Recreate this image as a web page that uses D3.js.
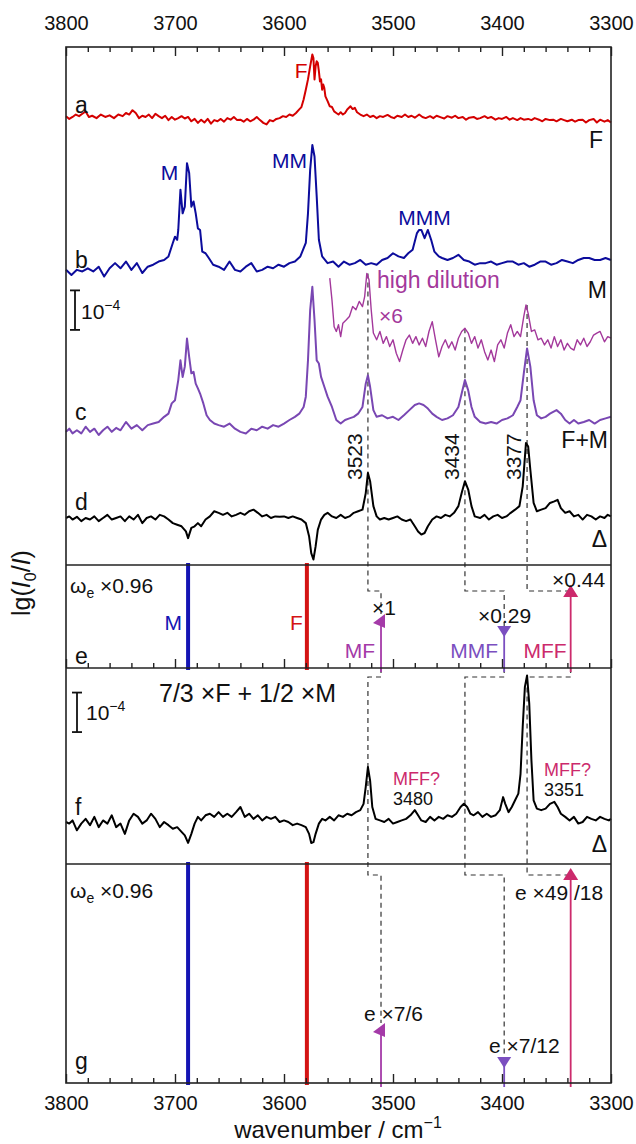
<!DOCTYPE html>
<html><head><meta charset="utf-8">
<script src="https://cdn.jsdelivr.net/npm/d3@7"></script>
<style>body{margin:0;background:#fff}svg{display:block}text{font-family:"Liberation Sans",Arial,Helvetica,sans-serif}</style>
</head><body><svg id="c" width="636" height="1144"></svg>
<script>
// ---------- DATA (absorbance in units of 1e-4, relative to each trace's own baseline) ----------
const xTicksMajor = [3800, 3700, 3600, 3500, 3400, 3300];
const specA = [[3800,0.02],[3797,-0.05],[3794,0],[3791,0.06],[3788,0.02],[3785,0.08],[3782,0.14],[3779,0],[3776,0.03],[3772,-0.03],[3768,0.06],[3764,0],[3760,0.04],[3756,-0.03],[3752,0.06],[3748,0.02],[3745,0.1],[3742,0.06],[3739,0.17],[3736,0.1],[3733,-0.03],[3730,0.03],[3727,0],[3724,0.06],[3721,-0.03],[3718,0.08],[3715,0.02],[3712,-0.03],[3709,0.03],[3706,-0.08],[3703,0],[3700,-0.07],[3697,-0.03],[3694,0.02],[3691,-0.04],[3688,0],[3685,-0.11],[3682,-0.05],[3679,-0.15],[3676,-0.07],[3673,-0.14],[3670,-0.05],[3667,-0.17],[3664,-0.08],[3661,-0.11],[3658,-0.05],[3655,-0.12],[3652,-0.03],[3649,-0.07],[3646,0],[3643,-0.08],[3640,-0.07],[3637,-0.12],[3634,-0.05],[3631,-0.11],[3628,-0.07],[3625,0],[3622,-0.08],[3619,-0.15],[3616,-0.19],[3613,-0.08],[3610,-0.11],[3607,-0.05],[3604,-0.03],[3601,0.02],[3598,0],[3595,0.06],[3592,0.03],[3589,0.1],[3586,0.19],[3584,0.25],[3582,0.44],[3580,0.69],[3578,0.95],[3576,1.28],[3574,1.58],[3573,1.49],[3572,0.95],[3571,1.28],[3570,1.41],[3569,1.37],[3568,1.16],[3567,0.9],[3566,0.95],[3565,0.69],[3564,0.82],[3563,0.73],[3562,0.52],[3560,0.4],[3558,0.27],[3556,0.25],[3554,0.14],[3552,0.1],[3550,0.06],[3548,0.12],[3546,0.06],[3544,0.1],[3542,0.19],[3539,0.27],[3537,0.2],[3535,0.23],[3533,0.12],[3530,0.06],[3527,0.02],[3524,0.06],[3521,0],[3518,0.03],[3515,-0.03],[3512,0.02],[3509,0],[3505,0.05],[3502,0],[3499,-0.03],[3496,0.03],[3492,0],[3489,0.06],[3486,0],[3483,0.03],[3480,-0.02],[3476,0.06],[3473,0],[3470,-0.03],[3466,0.02],[3463,-0.03],[3460,0.03],[3456,-0.01],[3453,-0.04],[3450,0.02],[3446,-0.02],[3443,0.03],[3440,-0.03],[3436,0],[3433,-0.07],[3430,-0.02],[3426,0],[3423,-0.05],[3420,-0.03],[3416,0.02],[3413,-0.03],[3410,0],[3406,-0.07],[3403,-0.03],[3400,-0.05],[3396,0],[3393,-0.07],[3390,-0.03],[3386,-0.08],[3383,-0.03],[3380,-0.07],[3376,-0.05],[3373,-0.08],[3370,-0.03],[3366,-0.07],[3363,-0.11],[3360,-0.05],[3356,-0.08],[3353,-0.07],[3350,-0.11],[3346,-0.05],[3343,-0.08],[3340,-0.11],[3336,-0.07],[3333,-0.12],[3330,-0.08],[3326,-0.07],[3323,-0.14],[3320,-0.08],[3316,-0.05],[3313,-0.14],[3310,-0.07],[3306,-0.12],[3303,-0.08],[3300,-0.14]];
const specB = [[3800,0],[3795,-0.13],[3790,0],[3785,-0.04],[3780,0.04],[3775,-0.04],[3770,0.08],[3765,-0.17],[3760,0.04],[3755,0.17],[3750,0.04],[3745,0.21],[3740,0],[3735,0.17],[3730,-0.08],[3725,0.08],[3720,0.13],[3715,0.21],[3710,0.25],[3706,0.34],[3702,0.68],[3700,0.84],[3698,0.76],[3697,1.01],[3695,2.03],[3693,1.43],[3691,1.6],[3689,2.7],[3687,2.45],[3685,1.6],[3683,1.73],[3681,1.43],[3679,1.05],[3677,1.01],[3675,0.46],[3672,0.42],[3669,0.3],[3665,0.13],[3660,0.08],[3655,0],[3650,0.21],[3645,0],[3640,-0.04],[3635,0.08],[3630,0.17],[3625,-0.04],[3620,0],[3615,0.08],[3610,0.04],[3605,0.13],[3600,0.08],[3595,0.17],[3590,0.21],[3585,0.34],[3580,0.68],[3578,1.43],[3576,2.53],[3574,3.16],[3572,2.87],[3570,1.86],[3568,0.76],[3565,0.34],[3560,0.17],[3555,0.21],[3550,0.08],[3545,0.21],[3540,0.13],[3535,0.17],[3530,0.25],[3525,0.13],[3520,0.17],[3515,0.13],[3510,0.25],[3505,0.3],[3500,0.42],[3495,0.34],[3490,0.3],[3486,0.42],[3482,0.51],[3478,0.93],[3476,1.01],[3474,1.01],[3471,0.8],[3468,1.01],[3465,0.76],[3462,0.46],[3458,0.34],[3455,0.3],[3450,0.25],[3445,0.3],[3440,0.38],[3435,0.25],[3430,0.21],[3425,0.13],[3420,0.17],[3415,0.17],[3410,0.21],[3405,0.13],[3400,0.17],[3395,0.21],[3390,0.21],[3385,0.13],[3380,0.17],[3375,0.08],[3370,0.13],[3365,0.21],[3360,0.21],[3355,0.13],[3350,0.17],[3345,0.25],[3340,0.21],[3335,0.17],[3330,0.25],[3325,0.3],[3320,0.3],[3315,0.25],[3310,0.25],[3305,0.3],[3300,0.25]];
const specHD = [[3558,1.69],[3556,1.14],[3554,0.46],[3552,0.34],[3550,0.51],[3548,0.21],[3546,0.55],[3543,0.63],[3540,0.72],[3537,0.97],[3534,0.89],[3531,1.1],[3528,0.97],[3526,1.22],[3524,1.81],[3522,1.65],[3520,0.89],[3518,0.3],[3515,0.13],[3512,0.34],[3509,0.04],[3506,0.21],[3503,-0.04],[3500,0.13],[3497,-0.21],[3494,-0.42],[3491,-0.13],[3488,0.13],[3485,0.25],[3482,0.04],[3479,0.21],[3476,0],[3473,0.17],[3470,-0.04],[3467,0.34],[3464,0.59],[3461,0.13],[3458,-0.3],[3455,-0.04],[3452,0.13],[3449,-0.08],[3446,0.08],[3443,-0.13],[3440,0.17],[3437,0.34],[3434,0.42],[3431,0.3],[3428,0.04],[3425,0.21],[3422,-0.08],[3419,0.13],[3416,-0.17],[3413,-0.38],[3410,-0.13],[3407,-0.42],[3404,0],[3401,0.13],[3398,-0.08],[3395,0.3],[3392,0.51],[3389,0.21],[3386,0.34],[3383,0.21],[3380,0.72],[3378,1.01],[3376,0.8],[3373,0.34],[3370,0.38],[3367,0.13],[3364,0.17],[3361,0],[3358,0.13],[3355,-0.08],[3352,0.21],[3349,-0.04],[3346,0.13],[3343,-0.13],[3340,0.04],[3337,-0.08],[3334,-0.13],[3331,0.13],[3328,0],[3325,0.17],[3322,-0.04],[3319,0.08],[3316,0.25],[3313,0.3],[3310,0.34],[3306,0.08],[3303,0.21],[3300,0.17]];
const specC = [[3800,0],[3797,0.08],[3794,-0.04],[3790,0.04],[3786,-0.04],[3782,0.13],[3778,0],[3774,0.08],[3770,-0.08],[3766,0.04],[3762,0.13],[3758,0],[3754,0.1],[3750,0.04],[3745,0.25],[3740,0.08],[3735,0.17],[3730,0.04],[3725,0.17],[3720,0.21],[3715,0.25],[3710,0.38],[3706,0.46],[3703,0.72],[3700,0.8],[3697,1.31],[3695,1.81],[3693,1.39],[3691,1.65],[3689,2.36],[3687,1.9],[3685,1.48],[3683,1.52],[3681,1.22],[3679,1.1],[3677,0.97],[3674,0.72],[3671,0.42],[3668,0.3],[3664,0.21],[3660,0.17],[3655,0.13],[3650,0.21],[3645,0.08],[3640,0],[3635,-0.04],[3630,0.08],[3625,0.04],[3620,0.13],[3615,0.08],[3610,0.17],[3605,0.13],[3600,0.21],[3595,0.3],[3590,0.38],[3586,0.46],[3582,0.63],[3580,0.89],[3578,1.81],[3576,3.08],[3574,3.67],[3572,2.83],[3570,1.81],[3568,1.73],[3566,1.39],[3563,1.14],[3560,0.89],[3556,0.63],[3552,0.3],[3548,0.21],[3544,0.3],[3540,0.34],[3536,0.38],[3532,0.46],[3528,0.63],[3525,1.22],[3523,1.43],[3521,1.14],[3518,0.55],[3515,0.38],[3510,0.42],[3505,0.34],[3500,0.38],[3495,0.3],[3490,0.42],[3485,0.55],[3480,0.68],[3476,0.72],[3472,0.68],[3468,0.59],[3464,0.46],[3460,0.38],[3455,0.3],[3450,0.34],[3445,0.42],[3440,0.63],[3437,0.97],[3434,1.31],[3431,1.05],[3428,0.63],[3425,0.38],[3420,0.25],[3415,0.21],[3410,0.25],[3405,0.21],[3400,0.3],[3395,0.34],[3390,0.42],[3386,0.63],[3383,0.8],[3380,1.48],[3377,2.11],[3374,1.65],[3371,0.8],[3368,0.42],[3364,0.34],[3360,0.38],[3356,0.46],[3350,0.55],[3346,0.46],[3342,0.3],[3338,0.21],[3334,0.3],[3330,0.21],[3325,0.25],[3320,0.3],[3315,0.21],[3310,0.3],[3305,0.34],[3300,0.38]];
const specD = [[3800,0],[3797,0.04],[3794,-0.04],[3790,0.03],[3786,-0.08],[3782,0],[3778,-0.04],[3774,0.04],[3770,-0.08],[3766,0],[3762,0.08],[3758,-0.04],[3754,0],[3750,0.04],[3746,-0.08],[3742,0.04],[3738,-0.04],[3734,0.08],[3730,-0.13],[3726,0],[3722,0.04],[3718,-0.04],[3714,0.08],[3710,0.04],[3706,-0.04],[3702,-0.13],[3698,-0.17],[3694,-0.21],[3690,-0.34],[3688,-0.51],[3685,-0.25],[3682,-0.21],[3679,-0.13],[3676,-0.21],[3672,-0.04],[3668,0.04],[3664,0.17],[3660,0.13],[3656,0.08],[3652,0.13],[3648,0.04],[3644,0.08],[3640,0.13],[3636,0.08],[3632,0.17],[3628,0.21],[3624,0.13],[3620,0.04],[3616,0.08],[3612,0],[3608,0.04],[3604,0.03],[3600,0.04],[3596,0],[3592,0.04],[3588,0],[3584,-0.04],[3580,-0.13],[3577,-0.46],[3575,-0.89],[3573,-1.05],[3571,-0.72],[3569,-0.3],[3566,-0.04],[3563,0.08],[3560,0.13],[3556,0.04],[3552,0],[3548,0.08],[3544,0],[3540,0.04],[3536,0.13],[3532,0.17],[3528,0.21],[3525,0.63],[3523,1.14],[3521,0.93],[3518,0.3],[3515,0.04],[3512,-0.04],[3508,0],[3504,-0.04],[3500,0],[3496,0.04],[3492,-0.04],[3488,-0.08],[3484,-0.04],[3480,-0.21],[3477,-0.34],[3474,-0.42],[3471,-0.38],[3468,-0.21],[3464,-0.04],[3460,0.04],[3456,0],[3452,0.08],[3448,0.04],[3444,0.13],[3440,0.3],[3437,0.63],[3434,0.93],[3431,0.72],[3428,0.3],[3425,0.04],[3420,0],[3416,0.08],[3412,-0.04],[3408,0.04],[3404,0.08],[3400,0],[3396,0.04],[3392,0.13],[3388,0.21],[3384,0.3],[3381,0.8],[3378,1.9],[3376,1.81],[3374,1.22],[3371,0.38],[3368,0.17],[3364,0.21],[3360,0.25],[3356,0.38],[3352,0.42],[3349,0.46],[3346,0.25],[3342,0.13],[3338,0.17],[3334,0.04],[3330,0.08],[3326,-0.04],[3322,0.08],[3318,0.04],[3314,-0.04],[3310,0.04],[3306,0],[3303,0.08],[3300,0.04]];
const specF = [[3800,0],[3797,-0.04],[3794,0.04],[3790,-0.21],[3786,-0.04],[3782,0.08],[3778,-0.08],[3774,0.13],[3770,-0.13],[3766,0.04],[3762,-0.04],[3758,0.17],[3754,-0.13],[3750,-0.04],[3746,-0.3],[3742,0.04],[3738,0.21],[3734,0.13],[3730,-0.04],[3726,0.04],[3722,0.21],[3718,0.08],[3714,-0.13],[3710,0],[3706,-0.08],[3702,-0.17],[3698,-0.13],[3694,-0.25],[3691,-0.34],[3688,-0.53],[3685,-0.3],[3682,-0.04],[3679,0.13],[3676,0.04],[3672,0.17],[3668,0.21],[3664,0.13],[3660,0.25],[3656,0.13],[3652,0.21],[3648,0.13],[3644,0.25],[3640,0.38],[3636,0.13],[3632,0.21],[3628,0.08],[3624,0.17],[3620,0.04],[3616,0.13],[3612,0.08],[3608,0.13],[3604,0],[3600,0.04],[3596,0],[3592,-0.08],[3588,-0.04],[3584,-0.08],[3580,-0.13],[3577,-0.3],[3575,-0.53],[3573,-0.51],[3571,-0.3],[3568,-0.04],[3565,0.08],[3562,0.04],[3558,0.13],[3554,0.04],[3550,0.17],[3546,0.13],[3542,0.21],[3538,0.17],[3534,0.25],[3530,0.3],[3527,0.46],[3525,0.89],[3523,1.39],[3521,1.05],[3519,0.38],[3516,0.08],[3512,0.04],[3508,0],[3504,0.08],[3500,-0.04],[3496,0],[3492,0.04],[3488,0.08],[3484,0.17],[3480,0.3],[3477,0.17],[3474,0.04],[3470,0],[3466,0.13],[3462,0.04],[3458,0.13],[3454,0.08],[3450,0.17],[3446,0.13],[3442,0.21],[3438,0.38],[3435,0.46],[3432,0.38],[3429,0.21],[3426,0.17],[3422,0.25],[3418,0.13],[3414,0.21],[3410,0.13],[3406,0.17],[3402,0.3],[3399,0.63],[3397,0.46],[3394,0.25],[3391,0.38],[3388,0.55],[3385,0.72],[3383,1.22],[3381,2.41],[3379,3.42],[3377,3.71],[3375,3.0],[3373,1.56],[3371,0.55],[3368,0.34],[3364,0.3],[3360,0.34],[3356,0.46],[3352,0.51],[3349,0.38],[3346,0.21],[3342,0.13],[3338,0.04],[3334,0.13],[3330,-0.04],[3326,0],[3322,0.13],[3318,0.08],[3314,0.04],[3310,0.13],[3306,0.08],[3302,0.04],[3300,0.08]];

// computed harmonic frequencies (x0.96) and relative stick intensities in panels e and g
const stickNames = ['M', 'F', 'MF', 'MMF', 'MFF'];
const stickWn = [3688, 3579, 3511, 3398, 3337];
const stickE = [1, 1, 0.524, 0.408, 0.806];
const stickG = [1, 1, 0.274, 0.119, 0.982];
const stickKind = ['bar', 'bar', 'wedge', 'down', 'up'];
const stickFactorE = ['', '', '×1', '×0.29', '×0.44'];
const stickFactorG = ['', '', 'e ×7/6', 'e ×7/12', 'e ×49 /18'];
// observed bands (cm-1) and their assigned sticks
const bandWn = [3523, 3434, 3377];
const bandStick = ['MF', 'MMF', 'MFF'];

// ---------- LAYOUT ----------
const svg = d3.select('#c');
const L = 66, R = 611;
const P = {top: 47, e: 565, f: 668, g: 864, bottom: 1083};
const x = d3.scaleLinear().domain([3800, 3300]).range([L, R]);
const yU = d3.scaleLinear().domain([0, 13.11]).range([P.e, P.top]);
const yF = d3.scaleLinear().domain([0, 4.962]).range([P.g, P.f]);
const yE = d3.scaleLinear().domain([0, 1]).range([P.f, P.e]);
const yG = d3.scaleLinear().domain([0, 1]).range([P.bottom, P.g]);

const colors = {a: '#d40000', b: '#0c0c9c', c: '#7947b3', hd: '#a3389b', d: '#000', f: '#000',
  M: '#1414b4', F: '#d41414', MF: '#a43aa8', MMF: '#7b4fc0', MFF: '#cc2a6c'};
const FONT = '"Liberation Sans", Arial, Helvetica, sans-serif';

function txt(g, px, py, s, o = {}) {
  return g.append('text').attr('x', px).attr('y', py)
    .attr('font-size', o.size || 21).attr('fill', o.fill || '#111')
    .attr('text-anchor', o.anchor || 'start').text(s);
}

// ---------- TRACES ----------
const traces = [
  {data: specA, off: 11.34, color: colors.a, w: 2, y: yU},
  {data: specB, off: 7.47, color: colors.b, w: 2, y: yU},
  {data: specHD, off: 5.57, color: colors.hd, w: 1.4, y: yU},
  {data: specC, off: 3.37, color: colors.c, w: 2, y: yU},
  {data: specD, off: 1.19, color: colors.d, w: 2, y: yU},
  {data: specF, off: 1.063, color: colors.f, w: 2, y: yF}
];

// dashed assignment connectors (drawn under the traces)
const dashG = svg.append('g').attr('fill', 'none').attr('stroke', '#333')
  .attr('stroke-width', 1.2).attr('stroke-dasharray', '5,4');
const jogE = P.e + 26, jogF = P.f + 9, jogG = P.g + 11;
bandWn.forEach((bw, i) => {
  const si = stickNames.indexOf(bandStick[i]);
  const near = d3.least(specHD, d => Math.abs(d[0] - bw));
  const y0 = yU(near[1] + 5.57);
  const xs = x(stickWn[si]), xb = x(bw);
  const tipE = yE(stickE[si]), tipG = yG(stickG[si]);
  dashG.append('path').attr('d', `M${xb},${y0}V${jogE}H${xs}V${Math.max(tipE, jogE)}`);
  dashG.append('path').attr('d', `M${xs},${P.f}V${jogF}H${xb}V${jogG}H${xs}V${Math.max(tipG, jogG)}`);
});

traces.forEach(t => {
  const line = d3.line().x(d => x(d[0])).y(d => t.y(d[1] + t.off));
  svg.append('path').datum(t.data).attr('d', line).attr('fill', 'none')
    .attr('stroke', t.color).attr('stroke-width', t.w).attr('stroke-linejoin', 'round');
});

// ---------- STICKS ----------
function drawSticks(vals, ys, top, bottom) {
  const g = svg.append('g');
  stickNames.forEach((n, i) => {
    const xs = x(stickWn[i]), c = colors[n];
    if (stickKind[i] === 'bar') {
      g.append('line').attr('x1', xs).attr('x2', xs).attr('y1', top - 2).attr('y2', bottom + 2)
        .attr('stroke', c).attr('stroke-width', 4);
      return;
    }
    const yt = ys(vals[i]);
    if (stickKind[i] === 'up') {
      g.append('line').attr('x1', xs).attr('x2', xs).attr('y1', yt + 10).attr('y2', bottom + 4)
        .attr('stroke', c).attr('stroke-width', 1.8);
      g.append('path').attr('d', `M${xs},${yt}L${xs + 7.5},${yt + 12}L${xs - 7.5},${yt + 12}Z`).attr('fill', c);
    } else if (stickKind[i] === 'wedge') {
      g.append('line').attr('x1', xs).attr('x2', xs).attr('y1', yt + 10).attr('y2', bottom + 4)
        .attr('stroke', c).attr('stroke-width', 1.8);
      g.append('path').attr('d', `M${xs + 4},${yt}L${xs - 8},${yt + 9}L${xs + 4},${yt + 14}Z`).attr('fill', c);
    } else {
      g.append('line').attr('x1', xs).attr('x2', xs).attr('y1', yt + 8).attr('y2', bottom + 4)
        .attr('stroke', c).attr('stroke-width', 1.8);
      g.append('path').attr('d', `M${xs - 7},${yt}L${xs + 7},${yt}L${xs},${yt + 11}Z`).attr('fill', c);
    }
  });
}
drawSticks(stickE, yE, P.e, P.f);
drawSticks(stickG, yG, P.g, P.bottom);

// ---------- FRAME & AXES ----------
svg.append('rect').attr('x', L).attr('y', P.top).attr('width', R - L).attr('height', P.bottom - P.top)
  .attr('fill', 'none').attr('stroke', '#222').attr('stroke-width', 1.6);
[P.e, P.f, P.g].forEach(yy => svg.append('line').attr('x1', L).attr('x2', R).attr('y1', yy).attr('y2', yy)
  .attr('stroke', '#222').attr('stroke-width', 1.6));

const minorVals = d3.range(3300, 3801, 20).filter(v => v % 100 !== 0);
function axisAt(gen, yy, labels, pad) {
  const gMaj = svg.append('g').attr('transform', `translate(0,${yy})`)
    .call(gen(x).tickValues(xTicksMajor).tickSize(-9).tickPadding(pad).tickFormat(labels ? d3.format('d') : ''));
  const gMin = svg.append('g').attr('transform', `translate(0,${yy})`)
    .call(gen(x).tickValues(minorVals).tickSize(-5).tickFormat(''));
  [gMaj, gMin].forEach(g => {
    g.select('.domain').remove();
    g.selectAll('line').attr('stroke', '#222').attr('stroke-width', 1.4);
    g.selectAll('text').attr('font-size', 20).attr('font-family', FONT).attr('fill', '#111');
  });
}
axisAt(d3.axisTop, P.top, true, 17);
axisAt(d3.axisBottom, P.f, false, 0);
axisAt(d3.axisBottom, P.bottom, true, 13);

// axis titles
const xt = svg.append('text').attr('x', 338).attr('y', 1138).attr('text-anchor', 'middle')
  .attr('font-size', 24).attr('fill', '#111');
xt.append('tspan').text('wavenumber / cm');
xt.append('tspan').attr('font-size', 16).attr('dy', -10).text('−1');
const yt = svg.append('text').attr('transform', 'translate(30,583) rotate(-90)').attr('text-anchor', 'middle')
  .attr('font-size', 25).attr('fill', '#111');
yt.append('tspan').text('lg(');
yt.append('tspan').attr('font-style', 'italic').text('I');
yt.append('tspan').attr('font-size', 16).attr('dy', 6).text('0');
yt.append('tspan').attr('dy', -6).text('/');
yt.append('tspan').attr('font-style', 'italic').text('I');
yt.append('tspan').text(')');

// ---------- SCALE BARS ----------
function scaleBar(ys, base, bx, lx, ly) {
  const y1 = ys(base), y2 = ys(base + 1);
  const g = svg.append('g').attr('stroke', '#111').attr('stroke-width', 1.8);
  g.append('line').attr('x1', bx).attr('x2', bx).attr('y1', y1).attr('y2', y2);
  g.append('line').attr('x1', bx - 5).attr('x2', bx + 5).attr('y1', y1).attr('y2', y1);
  g.append('line').attr('x1', bx - 5).attr('x2', bx + 5).attr('y1', y2).attr('y2', y2);
  const t = svg.append('text').attr('x', lx).attr('y', ly).attr('font-size', 21).attr('fill', '#111');
  t.append('tspan').text('10');
  t.append('tspan').attr('font-size', 14).attr('dy', -9).text('−4');
}
scaleBar(yU, 5.95, 75, 81, 319);
scaleBar(yF, 3.34, 77, 86, 720);

// ---------- LABELS ----------
const lab = svg.append('g');
// panel letters
[['a', 113], ['b', 268], ['c', 420], ['d', 510], ['e', 664], ['f', 815], ['g', 1069]]
  .forEach(([s, yy]) => txt(lab, 75, yy, s, {size: 23}));
// right-side trace labels
txt(lab, 603, 148, 'F', {size: 23, anchor: 'end'});
txt(lab, 607, 298, 'M', {size: 23, anchor: 'end'});
txt(lab, 608, 448, 'F+M', {size: 23, anchor: 'end'});
txt(lab, 607, 547, 'Δ', {size: 23, anchor: 'end'});
txt(lab, 607, 852, 'Δ', {size: 23, anchor: 'end'});
// coloured peak labels
txt(lab, x(3575) - 10, 78, 'F', {fill: colors.a, anchor: 'middle'});
txt(lab, x(3705), 180, 'M', {fill: colors.b, anchor: 'middle'});
txt(lab, x(3595), 168, 'MM', {fill: colors.b, anchor: 'middle'});
txt(lab, x(3471), 225, 'MMM', {fill: colors.b, anchor: 'middle'});
txt(lab, 377, 288, 'high dilution', {fill: colors.hd, size: 23});
txt(lab, 379, 323, '×6', {fill: colors.hd, size: 21});
// band positions (rotated)
bandWn.forEach(bw => {
  lab.append('text').attr('transform', `translate(${x(bw) - 6},480) rotate(-90)`)
    .attr('font-size', 21).attr('fill', '#111').text(bw);
});
// panel e
function omega(yy) {
  const t = lab.append('text').attr('x', 70).attr('y', yy).attr('font-size', 21).attr('fill', '#111');
  t.append('tspan').text('ω');
  t.append('tspan').attr('font-size', 14).attr('dy', 5).text('e');
  t.append('tspan').attr('dy', -5).text(' ×0.96');
}
omega(593);
omega(898);
txt(lab, x(3688) - 6, 630, 'M', {fill: colors.M, anchor: 'end'});
txt(lab, x(3579) - 4, 630, 'F', {fill: colors.F, anchor: 'end'});
txt(lab, x(3511) - 6, 658, 'MF', {fill: colors.MF, anchor: 'end'});
txt(lab, x(3398) - 6, 658, 'MMF', {fill: colors.MMF, anchor: 'end'});
txt(lab, x(3337) - 4, 658, 'MFF', {fill: colors.MFF, anchor: 'end'});
txt(lab, 372, 615, stickFactorE[2]);
txt(lab, 478, 623, stickFactorE[3]);
txt(lab, 552, 587, stickFactorE[4]);
// panel f
txt(lab, 159, 702, '7/3 ×F + 1/2 ×M', {size: 25});
txt(lab, 393, 785, 'MFF?', {fill: colors.MFF, size: 18});
txt(lab, 393, 805, '3480', {size: 18});
txt(lab, 544, 776, 'MFF?', {fill: colors.MFF, size: 18});
txt(lab, 544, 796, '3351', {size: 18});
// panel g
txt(lab, 364, 1021, stickFactorG[2]);
txt(lab, 489, 1053, stickFactorG[3]);
txt(lab, 515, 900, stickFactorG[4]);
</script></body></html>
